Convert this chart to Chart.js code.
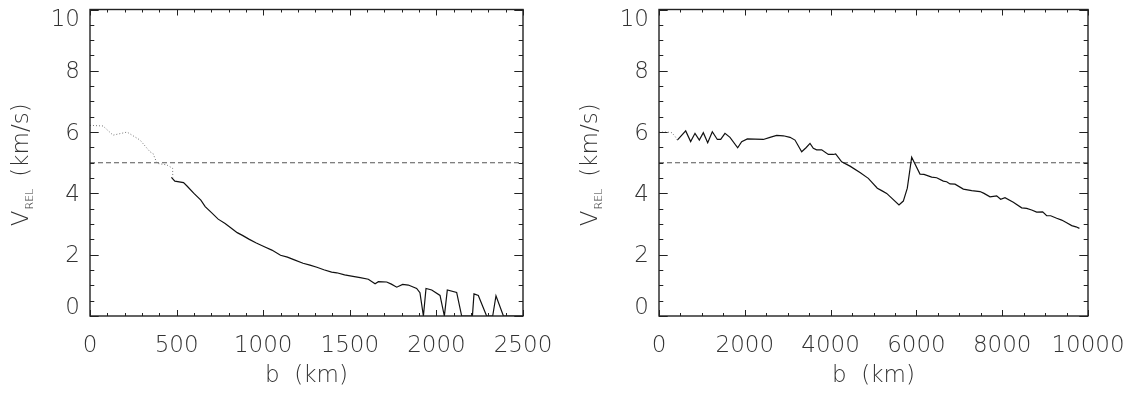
<!DOCTYPE html>
<html>
<head>
<meta charset="utf-8">
<script src="https://cdn.jsdelivr.net/npm/chart.js@4"></script>
<style>
  html, body { margin: 0; padding: 0; background: #fff; }
  #wrap { position: relative; width: 1134px; height: 393px; }
  .panel { position: absolute; top: 0; width: 567px; height: 393px; }
  #left { left: 0; }
  #right { left: 567px; }
</style>
</head>
<body>
<div id="wrap">
  <div class="panel" id="left"><canvas id="chartLeft" width="567" height="393"></canvas></div>
  <div class="panel" id="right"><canvas id="chartRight" width="567" height="393"></canvas></div>
</div>
<script>
// impact parameter b (km) vs relative velocity (km/s)
const leftDotB = [0, 75, 133, 214, 289, 346, 364, 387, 443, 477, 478];
const leftDotV = [6.22, 6.2, 5.9, 6.0, 5.74, 5.36, 5.3, 4.98, 4.93, 4.82, 4.52];

const leftSolidB = [470, 490, 540, 560, 600, 640, 665, 700, 740, 780,
  820, 850, 880, 920, 960, 1010, 1050, 1100, 1140, 1180,
  1230, 1270, 1310, 1350, 1395, 1425, 1470, 1510, 1560, 1607,
  1646, 1665, 1713, 1740, 1771, 1805, 1838, 1886, 1905, 1925,
  1940, 1973, 2021, 2046, 2063, 2117, 2146, 2208, 2217, 2242,
  2290, 2325, 2344, 2387, 2500];
const leftSolidV = [4.52, 4.40, 4.35, 4.24, 4.0, 3.78, 3.57, 3.38, 3.16, 3.02,
  2.85, 2.72, 2.63, 2.5, 2.38, 2.25, 2.15, 1.98, 1.92, 1.83,
  1.72, 1.66, 1.59, 1.51, 1.43, 1.41, 1.34, 1.30, 1.25, 1.20,
  1.05, 1.12, 1.11, 1.04, 0.94, 1.03, 1.01, 0.90, 0.76, 0,
  0.90, 0.85, 0.67, 0, 0.85, 0.77, 0, 0, 0.72, 0.67,
  0, 0, 0.66, 0, 0];

const rightDotB = [0, 200, 300, 380, 427];
const rightDotV = [6.0, 6.0, 5.98, 5.85, 5.74];

const rightSolidB = [427, 622, 738, 839, 940, 1033, 1135, 1243, 1360, 1438,
  1538, 1655, 1834, 1927, 2059, 2238, 2432, 2587, 2743, 2898,
  3054, 3170, 3326, 3427, 3520, 3597, 3675, 3792, 3947, 4063,
  4118, 4258, 4452, 4685, 4879, 5089, 5191, 5307, 5594, 5695,
  5788, 5890, 6084, 6177, 6356, 6473, 6627, 6705, 6783, 6900,
  7094, 7289, 7483, 7576, 7716, 7871, 7964, 8065, 8259, 8454,
  8570, 8687, 8803, 8943, 9037, 9130, 9270, 9387, 9503, 9620,
  9720, 9800];
const rightSolidV = [5.74, 6.04, 5.69, 5.96, 5.74, 5.98, 5.65, 6.01, 5.76, 5.76,
  5.96, 5.83, 5.49, 5.69, 5.78, 5.77, 5.76, 5.83, 5.89, 5.88,
  5.83, 5.74, 5.36, 5.49, 5.63, 5.47, 5.42, 5.42, 5.27, 5.27,
  5.29, 5.03, 4.89, 4.68, 4.49, 4.17, 4.09, 4.0, 3.62, 3.75,
  4.17, 5.18, 4.63, 4.62, 4.53, 4.51, 4.40, 4.38, 4.31, 4.30,
  4.14, 4.09, 4.06, 4.0, 3.89, 3.92, 3.81, 3.86, 3.71, 3.53,
  3.51, 3.46, 3.39, 3.40, 3.27, 3.27, 3.19, 3.13, 3.04, 2.95,
  2.91, 2.86];

const threshold = 5;
const yTicks = [0, 2, 4, 6, 8, 10];
const leftXTicks = [0, 500, 1000, 1500, 2000, 2500];
const rightXTicks = [0, 2000, 4000, 6000, 8000, 10000];

const textColor = '#333';
const lineColor = '#222';
const fontFamily = "'DejaVu Sans', sans-serif";

function pairs(xs, ys) {
  return xs.map((x, i) => ({ x: x, y: ys[i] }));
}

// box frame with inward major/minor ticks on all four sides
const idlFrame = {
  id: 'idlFrame',
  afterDatasetsDraw(chart, args, opts) {
    const { ctx, chartArea: a, scales: { x, y } } = chart;
    ctx.save();
    ctx.strokeStyle = lineColor;
    ctx.lineWidth = 1;
    const nx = Math.round((x.max - x.min) / opts.xMinor);
    for (let i = 0; i <= nx; i++) {
      const v = x.min + i * opts.xMinor;
      const major = Math.abs(v / opts.xMajor - Math.round(v / opts.xMajor)) < 1e-6;
      const len = major ? 6 : 3;
      const px = Math.round(x.getPixelForValue(v)) + 0.5;
      ctx.beginPath();
      ctx.moveTo(px, a.bottom); ctx.lineTo(px, a.bottom - len);
      ctx.moveTo(px, a.top); ctx.lineTo(px, a.top + len);
      ctx.stroke();
    }
    const ny = Math.round((y.max - y.min) / opts.yMinor);
    for (let i = 0; i <= ny; i++) {
      const v = y.min + i * opts.yMinor;
      const major = Math.abs(v / opts.yMajor - Math.round(v / opts.yMajor)) < 1e-6;
      const len = major ? 8.7 : 4.3;
      const py = Math.round(y.getPixelForValue(v)) + 0.5;
      ctx.beginPath();
      ctx.moveTo(a.left, py); ctx.lineTo(a.left + len, py);
      ctx.moveTo(a.right, py); ctx.lineTo(a.right - len, py);
      ctx.stroke();
    }
    ctx.lineWidth = 1.4;
    ctx.strokeRect(a.left, a.top, a.right - a.left, a.bottom - a.top);
    ctx.restore();
  }
};

// rotated y title with the REL subscript
const velocityTitle = {
  id: 'velocityTitle',
  afterDraw(chart) {
    const { ctx, chartArea: a } = chart;
    const big = `200 23px ${fontFamily}`;
    const small = `300 11px ${fontFamily}`;
    ctx.save();
    ctx.fillStyle = textColor;
    ctx.textBaseline = 'alphabetic';
    ctx.translate(a.left - 62, (a.top + a.bottom) / 2 + 2);
    ctx.rotate(-Math.PI / 2);
    ctx.font = big;
    const wV = ctx.measureText('V').width;
    const wP = ctx.measureText('(km/s)').width;
    ctx.font = small;
    const wR = ctx.measureText('REL').width;
    const gap = 12;
    let cx = -(wV + 1 + wR + gap + wP) / 2;
    ctx.font = big;
    ctx.fillText('V', cx, 0);
    cx += wV + 1;
    ctx.font = small;
    ctx.fillText('REL', cx, 5);
    cx += wR + gap;
    ctx.font = big;
    ctx.fillText('(km/s)', cx, 0);
    ctx.restore();
  }
};

function makePanel(canvasId, cfg) {
  const xMax = cfg.xTicks[cfg.xTicks.length - 1];
  return new Chart(document.getElementById(canvasId), {
    type: 'scatter',
    data: {
      datasets: [
        {
          data: pairs(cfg.dotB, cfg.dotV),
          showLine: true, pointRadius: 0,
          borderColor: '#777', borderWidth: 1, borderDash: [1, 2]
        },
        {
          data: pairs(cfg.solidB, cfg.solidV),
          showLine: true, pointRadius: 0,
          borderColor: '#111', borderWidth: 1.2
        },
        {
          data: pairs([0, xMax], [threshold, threshold]),
          showLine: true, pointRadius: 0,
          borderColor: '#555', borderWidth: 1.2, borderDash: [5, 3]
        }
      ]
    },
    options: {
      responsive: false,
      animation: false,
      devicePixelRatio: 1,
      layout: { padding: { left: 0, top: 9.5, right: cfg.padRight, bottom: 0 } },
      plugins: {
        legend: { display: false },
        tooltip: { enabled: false },
        idlFrame: { xMinor: cfg.xMinor, xMajor: cfg.xMajor, yMinor: 0.5, yMajor: 2 }
      },
      scales: {
        x: {
          type: 'linear', min: 0, max: xMax,
          afterBuildTicks: s => { s.ticks = cfg.xTicks.map(v => ({ value: v })); },
          afterFit: s => { s.height = 77; s.paddingLeft = 0; s.paddingRight = 0; },
          grid: { display: false, drawTicks: false },
          border: { display: false },
          ticks: {
            color: textColor, padding: 16, maxRotation: 0, autoSkip: false,
            font: { family: fontFamily, size: 23, weight: 200, lineHeight: 1.2 },
            callback: v => String(v)
          },
          title: {
            display: true, text: 'b  (km)', color: textColor,
            font: { family: fontFamily, size: 23, weight: 200, lineHeight: 1.2 },
            padding: { top: 0, bottom: 3 }
          }
        },
        y: {
          type: 'linear', min: 0, max: 10,
          afterBuildTicks: s => { s.ticks = yTicks.map(v => ({ value: v })); },
          afterFit: s => { s.width = cfg.axisLeft; s.paddingTop = 0; s.paddingBottom = 0; },
          grid: { display: false, drawTicks: false },
          border: { display: false },
          ticks: {
            color: textColor, padding: 10, labelOffset: 1.5,
            font: { family: fontFamily, size: 23, weight: 200, lineHeight: 0.78 },
            // end labels sit inside the frame
            callback: v => v === 10 ? ['', '10'] : v === 0 ? ['0', ''] : String(v)
          }
        }
      }
    },
    plugins: [idlFrame, velocityTitle]
  });
}

makePanel('chartLeft', {
  dotB: leftDotB, dotV: leftDotV,
  solidB: leftSolidB, solidV: leftSolidV,
  xTicks: leftXTicks, xMinor: 100, xMajor: 500,
  axisLeft: 90, padRight: 44
});

makePanel('chartRight', {
  dotB: rightDotB, dotV: rightDotV,
  solidB: rightSolidB, solidV: rightSolidV,
  xTicks: rightXTicks, xMinor: 500, xMajor: 2000,
  axisLeft: 92, padRight: 46
});
</script>
</body>
</html>
